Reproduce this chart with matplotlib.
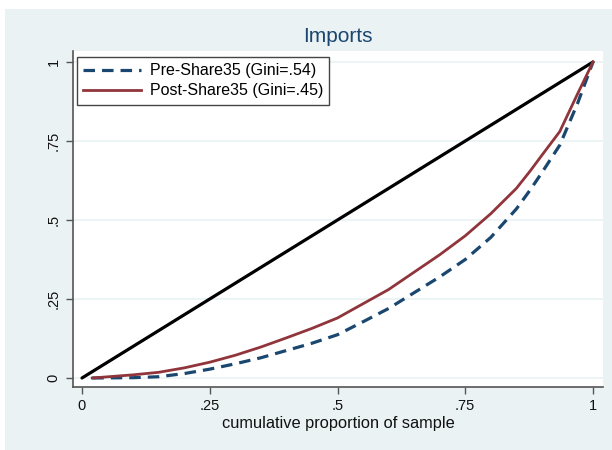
import matplotlib
matplotlib.use("Agg")
import matplotlib.pyplot as plt
from matplotlib.patches import Rectangle

plt.rcParams['font.family'] = ['Liberation Sans', 'DejaVu Sans']

# Data
x_share = [0.02, 0.1, 0.15, 0.2, 0.25, 0.3, 0.35, 0.4, 0.45, 0.5, 0.55, 0.6, 0.65, 0.7, 0.75, 0.8, 0.85, 0.877, 0.9, 0.935, 0.97, 1.0]
post = [0.0, 0.01, 0.018, 0.032, 0.05, 0.072, 0.098, 0.127, 0.157, 0.19, 0.235, 0.28, 0.335, 0.39, 0.45, 0.52, 0.6, 0.655, 0.705, 0.78, 0.9, 1.0]
pre = [0.0, 0.001, 0.004, 0.014, 0.028, 0.045, 0.064, 0.087, 0.11, 0.137, 0.178, 0.22, 0.27, 0.32, 0.375, 0.445, 0.535, 0.595, 0.65, 0.737, 0.87, 1.0]
equality_x = [0.0, 1.0]
equality_y = [0.0, 1.0]
ticks = [0, 0.25, 0.5, 0.75, 1]
tick_labels = ['0', '.25', '.5', '.75', '1']
title = 'Imports'
xlabel = 'cumulative proportion of sample'
labels = ['Pre-Share35 (Gini=.54)', 'Post-Share35 (Gini=.45)']

W, H = 612, 450
fig = plt.figure(figsize=(6.12, 4.5), dpi=100)
fig.patch.set_facecolor('white')
bg = '#EAF2F3'
fig.patches.append(Rectangle((5 / W, 0), 1 - 5 / W, 1 - 9 / H, transform=fig.transFigure,
                             facecolor=bg, edgecolor='none', zorder=-10))

left, right, top, bottom = 73, 603, 51, 387
ax = fig.add_axes([left / W, 1 - bottom / H, (right - left) / W, (bottom - top) / H])
ax.set_facecolor('white')

navy = '#1a476f'
maroon = '#90353b'

for t in ticks:
    ax.axhline(t, color=bg, lw=1.2, zorder=0)

ax.plot(equality_x, equality_y, color='black', lw=2.3, zorder=3, solid_capstyle='round')
l1, = ax.plot(x_share, pre, color=navy, lw=2.3, linestyle=(0, (3.6, 2.2)), zorder=4)
l2, = ax.plot(x_share, post, color=maroon, lw=2.0, zorder=5)

# x: 0 -> 82px, 1 -> 593px ; y: 0 -> 378px, 1 -> 62px
xs = 593 - 82
ys = 378 - 62
ax.set_xlim((left - 82) / xs, (right - 82) / xs)
ax.set_ylim((378 - bottom) / ys, (378 - top) / ys)

ax.set_xticks(ticks)
ax.set_xticklabels(tick_labels)
ax.set_yticks(ticks)
ax.set_yticklabels(tick_labels, rotation=90, va='center')
ax.tick_params(axis='both', direction='out', length=5, width=1, color='#555555',
               labelsize=10.5, labelcolor='#111111', pad=4)

for s in ['top', 'right']:
    ax.spines[s].set_visible(False)
for s in ['left', 'bottom']:
    ax.spines[s].set_color('#555555')
    ax.spines[s].set_linewidth(1.2)

ax.set_xlabel(xlabel, fontsize=11.8, color='#111111', labelpad=2)
fig.text(338 / W, 1 - 37 / H, title, ha='center', va='center', fontsize=15, color=navy)

leg = ax.legend([l1, l2], labels, loc='upper left', bbox_to_anchor=((77 - left) / (right - left), 1 - (57 - top) / (bottom - top)),
                fontsize=11.5, frameon=True, fancybox=False, borderpad=0.4, handlelength=3.6,
                handletextpad=0.55, labelspacing=0.3, borderaxespad=0)
leg.get_frame().set_edgecolor('#444444')
leg.get_frame().set_linewidth(1.0)
leg.get_frame().set_facecolor('white')
leg.get_frame().set_alpha(1)

fig.savefig('out.png', dpi=100)
